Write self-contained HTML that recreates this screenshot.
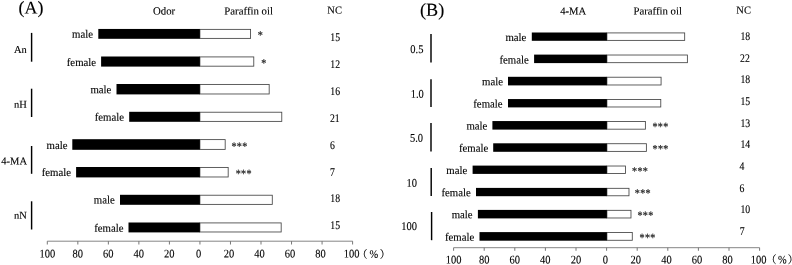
<!DOCTYPE html>
<html><head><meta charset="utf-8"><title>Figure</title>
<style>
html,body{margin:0;padding:0;background:#fff;}
body{width:792px;height:265px;overflow:hidden;}
svg{display:block;font-family:"Liberation Serif", "Noto Serif CJK SC", serif;will-change:transform;}
</style></head><body>
<svg width="792" height="265" viewBox="0 0 792 265">
<rect x="0" y="0" width="792" height="265" fill="#fff"/>
<text transform="translate(18.60,13.50) rotate(0.03)" font-size="17.9" text-anchor="start" fill="#000" stroke="#000" stroke-width="0.12">(A)</text>
<text transform="translate(153.00,14.60) rotate(0.03)" font-size="10.8" text-anchor="start" fill="#000" stroke="#000" stroke-width="0.12">Odor</text>
<text transform="translate(224.30,14.60) rotate(0.03)" font-size="10.8" text-anchor="start" fill="#000" stroke="#000" stroke-width="0.12">Paraffin oil</text>
<text transform="translate(327.30,13.55) rotate(0.03)" font-size="10.5" text-anchor="start" fill="#000" stroke="#000" stroke-width="0.12">NC</text>
<rect x="199.90" y="29.37" width="50.68" height="9.01" fill="#fff" stroke="#444" stroke-width="0.85"/>
<rect x="98.30" y="28.95" width="101.60" height="9.85" fill="#000"/>
<text transform="translate(93.00,37.80) rotate(0.03) scale(0.955,1)" font-size="11.3" text-anchor="end" fill="#000" stroke="#000" stroke-width="0.12">male</text>
<text transform="translate(257.80,38.83) rotate(0.03) scale(0.9,1)" font-size="11.3" text-anchor="start" fill="#2a2a2a" stroke="#2a2a2a" stroke-width="0.25" letter-spacing="0.32">*</text>
<text transform="translate(330.30,40.90) rotate(0.03) scale(0.835,1)" font-size="11.7" text-anchor="start" fill="#000" stroke="#000" stroke-width="0.12">15</text>
<rect x="199.90" y="56.92" width="53.88" height="9.26" fill="#fff" stroke="#444" stroke-width="0.85"/>
<rect x="101.10" y="56.50" width="98.80" height="10.10" fill="#000"/>
<text transform="translate(96.10,66.00) rotate(0.03) scale(0.955,1)" font-size="11.3" text-anchor="end" fill="#000" stroke="#000" stroke-width="0.12">female</text>
<text transform="translate(261.30,66.83) rotate(0.03) scale(0.9,1)" font-size="11.3" text-anchor="start" fill="#2a2a2a" stroke="#2a2a2a" stroke-width="0.25" letter-spacing="0.32">*</text>
<text transform="translate(330.30,68.00) rotate(0.03) scale(0.835,1)" font-size="11.7" text-anchor="start" fill="#000" stroke="#000" stroke-width="0.12">12</text>
<rect x="199.90" y="84.42" width="69.28" height="9.56" fill="#fff" stroke="#444" stroke-width="0.85"/>
<rect x="116.50" y="84.00" width="83.40" height="10.40" fill="#000"/>
<text transform="translate(111.40,93.20) rotate(0.03) scale(0.955,1)" font-size="11.3" text-anchor="end" fill="#000" stroke="#000" stroke-width="0.12">male</text>
<text transform="translate(330.30,94.60) rotate(0.03) scale(0.835,1)" font-size="11.7" text-anchor="start" fill="#000" stroke="#000" stroke-width="0.12">16</text>
<rect x="199.90" y="112.22" width="81.88" height="9.16" fill="#fff" stroke="#444" stroke-width="0.85"/>
<rect x="129.20" y="111.80" width="70.70" height="10.00" fill="#000"/>
<text transform="translate(124.00,120.70) rotate(0.03) scale(0.955,1)" font-size="11.3" text-anchor="end" fill="#000" stroke="#000" stroke-width="0.12">female</text>
<text transform="translate(329.90,121.65) rotate(0.03) scale(0.835,1)" font-size="11.7" text-anchor="start" fill="#000" stroke="#000" stroke-width="0.12">21</text>
<rect x="199.90" y="139.62" width="25.28" height="9.76" fill="#fff" stroke="#444" stroke-width="0.85"/>
<rect x="72.30" y="139.20" width="127.60" height="10.60" fill="#000"/>
<text transform="translate(67.50,148.90) rotate(0.03) scale(0.955,1)" font-size="11.3" text-anchor="end" fill="#000" stroke="#000" stroke-width="0.12">male</text>
<text transform="translate(231.40,149.93) rotate(0.03) scale(0.9,1)" font-size="11.3" text-anchor="start" fill="#2a2a2a" stroke="#2a2a2a" stroke-width="0.25" letter-spacing="0.32">***</text>
<text transform="translate(329.90,148.60) rotate(0.03) scale(0.835,1)" font-size="11.7" text-anchor="start" fill="#000" stroke="#000" stroke-width="0.12">6</text>
<rect x="199.90" y="167.42" width="28.28" height="9.56" fill="#fff" stroke="#444" stroke-width="0.85"/>
<rect x="76.10" y="167.00" width="123.80" height="10.40" fill="#000"/>
<text transform="translate(71.00,176.00) rotate(0.03) scale(0.955,1)" font-size="11.3" text-anchor="end" fill="#000" stroke="#000" stroke-width="0.12">female</text>
<text transform="translate(235.70,177.33) rotate(0.03) scale(0.9,1)" font-size="11.3" text-anchor="start" fill="#2a2a2a" stroke="#2a2a2a" stroke-width="0.25" letter-spacing="0.32">***</text>
<text transform="translate(329.90,175.50) rotate(0.03) scale(0.835,1)" font-size="11.7" text-anchor="start" fill="#000" stroke="#000" stroke-width="0.12">7</text>
<rect x="199.90" y="195.22" width="72.38" height="9.16" fill="#fff" stroke="#444" stroke-width="0.85"/>
<rect x="120.00" y="194.80" width="79.90" height="10.00" fill="#000"/>
<text transform="translate(114.80,203.50) rotate(0.03) scale(0.955,1)" font-size="11.3" text-anchor="end" fill="#000" stroke="#000" stroke-width="0.12">male</text>
<text transform="translate(330.30,202.30) rotate(0.03) scale(0.835,1)" font-size="11.7" text-anchor="start" fill="#000" stroke="#000" stroke-width="0.12">18</text>
<rect x="199.90" y="222.92" width="81.28" height="9.06" fill="#fff" stroke="#444" stroke-width="0.85"/>
<rect x="128.50" y="222.50" width="71.40" height="9.90" fill="#000"/>
<text transform="translate(123.50,231.80) rotate(0.03) scale(0.955,1)" font-size="11.3" text-anchor="end" fill="#000" stroke="#000" stroke-width="0.12">female</text>
<text transform="translate(330.30,229.20) rotate(0.03) scale(0.835,1)" font-size="11.7" text-anchor="start" fill="#000" stroke="#000" stroke-width="0.12">15</text>
<text transform="translate(13.90,52.90) rotate(0.03)" font-size="10.5" text-anchor="start" fill="#000" stroke="#000" stroke-width="0.12">An</text>
<text transform="translate(13.90,107.70) rotate(0.03)" font-size="10.5" text-anchor="start" fill="#000" stroke="#000" stroke-width="0.12">nH</text>
<text transform="translate(1.30,164.50) rotate(0.03)" font-size="10.5" text-anchor="start" fill="#000" stroke="#000" stroke-width="0.12">4-MA</text>
<text transform="translate(13.90,218.80) rotate(0.03)" font-size="10.5" text-anchor="start" fill="#000" stroke="#000" stroke-width="0.12">nN</text>
<line x1="31.60" y1="32.90" x2="31.60" y2="61.70" stroke="#000" stroke-width="1.45"/>
<line x1="31.60" y1="88.70" x2="31.60" y2="117.00" stroke="#000" stroke-width="1.45"/>
<line x1="31.60" y1="146.00" x2="31.60" y2="173.80" stroke="#000" stroke-width="1.45"/>
<line x1="31.60" y1="201.30" x2="31.60" y2="229.50" stroke="#000" stroke-width="1.45"/>
<line x1="47.30" y1="241.20" x2="352.70" y2="241.20" stroke="#787878" stroke-width="0.9"/>
<line x1="47.30" y1="241.20" x2="47.30" y2="244.50" stroke="#707070" stroke-width="0.95"/>
<text transform="translate(47.30,257.50) rotate(0.03) scale(0.89,1)" font-size="11.8" text-anchor="middle" fill="#000" stroke="#000" stroke-width="0.12">100</text>
<line x1="77.83" y1="241.20" x2="77.83" y2="244.50" stroke="#707070" stroke-width="0.95"/>
<text transform="translate(77.80,257.50) rotate(0.03) scale(0.89,1)" font-size="11.8" text-anchor="middle" fill="#000" stroke="#000" stroke-width="0.12">80</text>
<line x1="108.36" y1="241.20" x2="108.36" y2="244.50" stroke="#707070" stroke-width="0.95"/>
<text transform="translate(108.30,257.50) rotate(0.03) scale(0.89,1)" font-size="11.8" text-anchor="middle" fill="#000" stroke="#000" stroke-width="0.12">60</text>
<line x1="138.89" y1="241.20" x2="138.89" y2="244.50" stroke="#707070" stroke-width="0.95"/>
<text transform="translate(138.80,257.50) rotate(0.03) scale(0.89,1)" font-size="11.8" text-anchor="middle" fill="#000" stroke="#000" stroke-width="0.12">40</text>
<line x1="169.42" y1="241.20" x2="169.42" y2="244.50" stroke="#707070" stroke-width="0.95"/>
<text transform="translate(169.30,257.50) rotate(0.03) scale(0.89,1)" font-size="11.8" text-anchor="middle" fill="#000" stroke="#000" stroke-width="0.12">20</text>
<line x1="199.95" y1="241.20" x2="199.95" y2="244.50" stroke="#707070" stroke-width="0.95"/>
<text transform="translate(198.65,257.50) rotate(0.03) scale(0.89,1)" font-size="11.8" text-anchor="middle" fill="#000" stroke="#000" stroke-width="0.12">0</text>
<line x1="230.48" y1="241.20" x2="230.48" y2="244.50" stroke="#707070" stroke-width="0.95"/>
<text transform="translate(229.10,257.50) rotate(0.03) scale(0.89,1)" font-size="11.8" text-anchor="middle" fill="#000" stroke="#000" stroke-width="0.12">20</text>
<line x1="261.01" y1="241.20" x2="261.01" y2="244.50" stroke="#707070" stroke-width="0.95"/>
<text transform="translate(259.60,257.50) rotate(0.03) scale(0.89,1)" font-size="11.8" text-anchor="middle" fill="#000" stroke="#000" stroke-width="0.12">40</text>
<line x1="291.54" y1="241.20" x2="291.54" y2="244.50" stroke="#707070" stroke-width="0.95"/>
<text transform="translate(290.10,257.50) rotate(0.03) scale(0.89,1)" font-size="11.8" text-anchor="middle" fill="#000" stroke="#000" stroke-width="0.12">60</text>
<line x1="322.07" y1="241.20" x2="322.07" y2="244.50" stroke="#707070" stroke-width="0.95"/>
<text transform="translate(320.60,257.50) rotate(0.03) scale(0.89,1)" font-size="11.8" text-anchor="middle" fill="#000" stroke="#000" stroke-width="0.12">80</text>
<line x1="352.60" y1="241.20" x2="352.60" y2="244.50" stroke="#707070" stroke-width="0.95"/>
<text transform="translate(351.55,257.50) rotate(0.03) scale(0.89,1)" font-size="11.8" text-anchor="middle" fill="#000" stroke="#000" stroke-width="0.12">100</text>
<text transform="translate(356.90,257.90) rotate(0.03)" font-size="10.5" text-anchor="start" fill="#000" stroke="#000" stroke-width="0.12">（</text>
<text transform="translate(369.60,257.70) rotate(0.03) scale(0.93,1)" font-size="11.2" text-anchor="start" fill="#000" stroke="#000" stroke-width="0.1">%</text>
<text transform="translate(379.65,257.90) rotate(0.03)" font-size="10.5" text-anchor="start" fill="#000" stroke="#000" stroke-width="0.12">）</text>
<text transform="translate(420.00,15.80) rotate(0.03)" font-size="18.2" text-anchor="start" fill="#000" stroke="#000" stroke-width="0.12">(B)</text>
<text transform="translate(560.30,14.50) rotate(0.03)" font-size="10.6" text-anchor="start" fill="#000" stroke="#000" stroke-width="0.12">4-MA</text>
<text transform="translate(633.40,14.45) rotate(0.03)" font-size="10.75" text-anchor="start" fill="#000" stroke="#000" stroke-width="0.12">Paraffin oil</text>
<text transform="translate(736.30,13.50) rotate(0.03)" font-size="10.5" text-anchor="start" fill="#000" stroke="#000" stroke-width="0.12">NC</text>
<rect x="606.90" y="32.92" width="77.78" height="7.46" fill="#fff" stroke="#444" stroke-width="0.85"/>
<rect x="531.80" y="32.50" width="75.10" height="8.30" fill="#000"/>
<text transform="translate(526.40,41.00) rotate(0.03) scale(0.955,1)" font-size="11.3" text-anchor="end" fill="#000" stroke="#000" stroke-width="0.12">male</text>
<text transform="translate(740.40,39.80) rotate(0.03) scale(0.835,1)" font-size="11.7" text-anchor="start" fill="#000" stroke="#000" stroke-width="0.12">18</text>
<rect x="606.90" y="55.02" width="80.48" height="7.66" fill="#fff" stroke="#444" stroke-width="0.85"/>
<rect x="534.10" y="54.60" width="72.80" height="8.50" fill="#000"/>
<text transform="translate(528.75,63.40) rotate(0.03) scale(0.955,1)" font-size="11.3" text-anchor="end" fill="#000" stroke="#000" stroke-width="0.12">female</text>
<text transform="translate(740.00,61.55) rotate(0.03) scale(0.835,1)" font-size="11.7" text-anchor="start" fill="#000" stroke="#000" stroke-width="0.12">22</text>
<rect x="606.90" y="77.22" width="54.18" height="7.76" fill="#fff" stroke="#444" stroke-width="0.85"/>
<rect x="508.00" y="76.80" width="98.90" height="8.60" fill="#000"/>
<text transform="translate(503.00,85.30) rotate(0.03) scale(0.955,1)" font-size="11.3" text-anchor="end" fill="#000" stroke="#000" stroke-width="0.12">male</text>
<text transform="translate(740.40,82.60) rotate(0.03) scale(0.835,1)" font-size="11.7" text-anchor="start" fill="#000" stroke="#000" stroke-width="0.12">18</text>
<rect x="606.90" y="99.47" width="53.88" height="7.51" fill="#fff" stroke="#444" stroke-width="0.85"/>
<rect x="508.00" y="99.05" width="98.90" height="8.35" fill="#000"/>
<text transform="translate(502.60,107.45) rotate(0.03) scale(0.955,1)" font-size="11.3" text-anchor="end" fill="#000" stroke="#000" stroke-width="0.12">female</text>
<text transform="translate(740.40,104.80) rotate(0.03) scale(0.835,1)" font-size="11.7" text-anchor="start" fill="#000" stroke="#000" stroke-width="0.12">15</text>
<rect x="606.90" y="121.47" width="38.48" height="7.71" fill="#fff" stroke="#444" stroke-width="0.85"/>
<rect x="492.40" y="121.05" width="114.50" height="8.55" fill="#000"/>
<text transform="translate(487.40,129.45) rotate(0.03) scale(0.955,1)" font-size="11.3" text-anchor="end" fill="#000" stroke="#000" stroke-width="0.12">male</text>
<text transform="translate(652.40,130.33) rotate(0.03) scale(0.9,1)" font-size="11.3" text-anchor="start" fill="#2a2a2a" stroke="#2a2a2a" stroke-width="0.25" letter-spacing="0.32">***</text>
<text transform="translate(740.40,126.60) rotate(0.03) scale(0.835,1)" font-size="11.7" text-anchor="start" fill="#000" stroke="#000" stroke-width="0.12">13</text>
<rect x="606.90" y="143.72" width="39.48" height="7.66" fill="#fff" stroke="#444" stroke-width="0.85"/>
<rect x="493.20" y="143.30" width="113.70" height="8.50" fill="#000"/>
<text transform="translate(488.20,151.80) rotate(0.03) scale(0.955,1)" font-size="11.3" text-anchor="end" fill="#000" stroke="#000" stroke-width="0.12">female</text>
<text transform="translate(652.60,152.53) rotate(0.03) scale(0.9,1)" font-size="11.3" text-anchor="start" fill="#2a2a2a" stroke="#2a2a2a" stroke-width="0.25" letter-spacing="0.32">***</text>
<text transform="translate(740.40,147.90) rotate(0.03) scale(0.835,1)" font-size="11.7" text-anchor="start" fill="#000" stroke="#000" stroke-width="0.12">14</text>
<rect x="606.90" y="166.02" width="18.58" height="7.46" fill="#fff" stroke="#444" stroke-width="0.85"/>
<rect x="472.60" y="165.60" width="134.30" height="8.30" fill="#000"/>
<text transform="translate(467.20,174.00) rotate(0.03) scale(0.955,1)" font-size="11.3" text-anchor="end" fill="#000" stroke="#000" stroke-width="0.12">male</text>
<text transform="translate(632.10,174.83) rotate(0.03) scale(0.9,1)" font-size="11.3" text-anchor="start" fill="#2a2a2a" stroke="#2a2a2a" stroke-width="0.25" letter-spacing="0.32">***</text>
<text transform="translate(739.50,169.60) rotate(0.03) scale(0.835,1)" font-size="11.7" text-anchor="start" fill="#000" stroke="#000" stroke-width="0.12">4</text>
<rect x="606.90" y="188.32" width="22.08" height="7.46" fill="#fff" stroke="#444" stroke-width="0.85"/>
<rect x="476.00" y="187.90" width="130.90" height="8.30" fill="#000"/>
<text transform="translate(470.80,196.20) rotate(0.03) scale(0.955,1)" font-size="11.3" text-anchor="end" fill="#000" stroke="#000" stroke-width="0.12">female</text>
<text transform="translate(634.80,196.83) rotate(0.03) scale(0.9,1)" font-size="11.3" text-anchor="start" fill="#2a2a2a" stroke="#2a2a2a" stroke-width="0.25" letter-spacing="0.32">***</text>
<text transform="translate(739.60,191.70) rotate(0.03) scale(0.835,1)" font-size="11.7" text-anchor="start" fill="#000" stroke="#000" stroke-width="0.12">6</text>
<rect x="606.90" y="210.32" width="24.08" height="7.66" fill="#fff" stroke="#444" stroke-width="0.85"/>
<rect x="477.90" y="209.90" width="129.00" height="8.50" fill="#000"/>
<text transform="translate(472.60,218.20) rotate(0.03) scale(0.955,1)" font-size="11.3" text-anchor="end" fill="#000" stroke="#000" stroke-width="0.12">male</text>
<text transform="translate(637.40,219.03) rotate(0.03) scale(0.9,1)" font-size="11.3" text-anchor="start" fill="#2a2a2a" stroke="#2a2a2a" stroke-width="0.25" letter-spacing="0.32">***</text>
<text transform="translate(740.40,213.20) rotate(0.03) scale(0.835,1)" font-size="11.7" text-anchor="start" fill="#000" stroke="#000" stroke-width="0.12">10</text>
<rect x="606.90" y="232.52" width="25.38" height="7.76" fill="#fff" stroke="#444" stroke-width="0.85"/>
<rect x="479.50" y="232.10" width="127.40" height="8.60" fill="#000"/>
<text transform="translate(474.20,240.80) rotate(0.03) scale(0.955,1)" font-size="11.3" text-anchor="end" fill="#000" stroke="#000" stroke-width="0.12">female</text>
<text transform="translate(639.60,241.33) rotate(0.03) scale(0.9,1)" font-size="11.3" text-anchor="start" fill="#2a2a2a" stroke="#2a2a2a" stroke-width="0.25" letter-spacing="0.32">***</text>
<text transform="translate(739.80,234.60) rotate(0.03) scale(0.835,1)" font-size="11.7" text-anchor="start" fill="#000" stroke="#000" stroke-width="0.12">7</text>
<text transform="translate(410.30,53.10) rotate(0.03) scale(0.89,1)" font-size="11.8" text-anchor="start" fill="#000" stroke="#000" stroke-width="0.12">0.5</text>
<text transform="translate(410.70,97.70) rotate(0.03) scale(0.89,1)" font-size="11.8" text-anchor="start" fill="#000" stroke="#000" stroke-width="0.12">1.0</text>
<text transform="translate(410.00,141.65) rotate(0.03) scale(0.89,1)" font-size="11.8" text-anchor="start" fill="#000" stroke="#000" stroke-width="0.12">5.0</text>
<text transform="translate(406.60,186.85) rotate(0.03) scale(0.89,1)" font-size="11.8" text-anchor="start" fill="#000" stroke="#000" stroke-width="0.12">10</text>
<text transform="translate(401.30,229.90) rotate(0.03) scale(0.89,1)" font-size="11.8" text-anchor="start" fill="#000" stroke="#000" stroke-width="0.12">100</text>
<line x1="431.00" y1="34.00" x2="431.00" y2="62.40" stroke="#000" stroke-width="1.45"/>
<line x1="431.00" y1="79.30" x2="431.00" y2="107.10" stroke="#000" stroke-width="1.45"/>
<line x1="431.00" y1="123.00" x2="431.00" y2="151.40" stroke="#000" stroke-width="1.45"/>
<line x1="431.20" y1="168.00" x2="431.20" y2="196.10" stroke="#000" stroke-width="1.45"/>
<line x1="431.60" y1="212.00" x2="431.60" y2="240.20" stroke="#000" stroke-width="1.45"/>
<line x1="453.60" y1="247.70" x2="759.60" y2="247.70" stroke="#787878" stroke-width="0.9"/>
<line x1="453.60" y1="247.70" x2="453.60" y2="250.80" stroke="#707070" stroke-width="0.95"/>
<text transform="translate(453.60,263.55) rotate(0.03) scale(0.89,1)" font-size="11.8" text-anchor="middle" fill="#000" stroke="#000" stroke-width="0.12">100</text>
<line x1="484.20" y1="247.70" x2="484.20" y2="250.80" stroke="#707070" stroke-width="0.95"/>
<text transform="translate(484.17,263.55) rotate(0.03) scale(0.89,1)" font-size="11.8" text-anchor="middle" fill="#000" stroke="#000" stroke-width="0.12">80</text>
<line x1="514.80" y1="247.70" x2="514.80" y2="250.80" stroke="#707070" stroke-width="0.95"/>
<text transform="translate(514.74,263.55) rotate(0.03) scale(0.89,1)" font-size="11.8" text-anchor="middle" fill="#000" stroke="#000" stroke-width="0.12">60</text>
<line x1="545.40" y1="247.70" x2="545.40" y2="250.80" stroke="#707070" stroke-width="0.95"/>
<text transform="translate(545.31,263.55) rotate(0.03) scale(0.89,1)" font-size="11.8" text-anchor="middle" fill="#000" stroke="#000" stroke-width="0.12">40</text>
<line x1="576.00" y1="247.70" x2="576.00" y2="250.80" stroke="#707070" stroke-width="0.95"/>
<text transform="translate(575.88,263.55) rotate(0.03) scale(0.89,1)" font-size="11.8" text-anchor="middle" fill="#000" stroke="#000" stroke-width="0.12">20</text>
<line x1="606.60" y1="247.70" x2="606.60" y2="250.80" stroke="#707070" stroke-width="0.95"/>
<text transform="translate(605.30,263.55) rotate(0.03) scale(0.89,1)" font-size="11.8" text-anchor="middle" fill="#000" stroke="#000" stroke-width="0.12">0</text>
<line x1="637.20" y1="247.70" x2="637.20" y2="250.80" stroke="#707070" stroke-width="0.95"/>
<text transform="translate(635.82,263.55) rotate(0.03) scale(0.89,1)" font-size="11.8" text-anchor="middle" fill="#000" stroke="#000" stroke-width="0.12">20</text>
<line x1="667.80" y1="247.70" x2="667.80" y2="250.80" stroke="#707070" stroke-width="0.95"/>
<text transform="translate(666.39,263.55) rotate(0.03) scale(0.89,1)" font-size="11.8" text-anchor="middle" fill="#000" stroke="#000" stroke-width="0.12">40</text>
<line x1="698.40" y1="247.70" x2="698.40" y2="250.80" stroke="#707070" stroke-width="0.95"/>
<text transform="translate(696.96,263.55) rotate(0.03) scale(0.89,1)" font-size="11.8" text-anchor="middle" fill="#000" stroke="#000" stroke-width="0.12">60</text>
<line x1="729.00" y1="247.70" x2="729.00" y2="250.80" stroke="#707070" stroke-width="0.95"/>
<text transform="translate(727.53,263.55) rotate(0.03) scale(0.89,1)" font-size="11.8" text-anchor="middle" fill="#000" stroke="#000" stroke-width="0.12">80</text>
<line x1="759.60" y1="247.70" x2="759.60" y2="250.80" stroke="#707070" stroke-width="0.95"/>
<text transform="translate(758.55,263.55) rotate(0.03) scale(0.89,1)" font-size="11.8" text-anchor="middle" fill="#000" stroke="#000" stroke-width="0.12">100</text>
<text transform="translate(765.90,263.30) rotate(0.03)" font-size="10.5" text-anchor="start" fill="#000" stroke="#000" stroke-width="0.12">（</text>
<text transform="translate(778.00,263.20) rotate(0.03) scale(0.93,1)" font-size="11.2" text-anchor="start" fill="#000" stroke="#000" stroke-width="0.1">%</text>
<text transform="translate(787.85,263.30) rotate(0.03)" font-size="10.5" text-anchor="start" fill="#000" stroke="#000" stroke-width="0.12">）</text>
</svg>
</body></html>
